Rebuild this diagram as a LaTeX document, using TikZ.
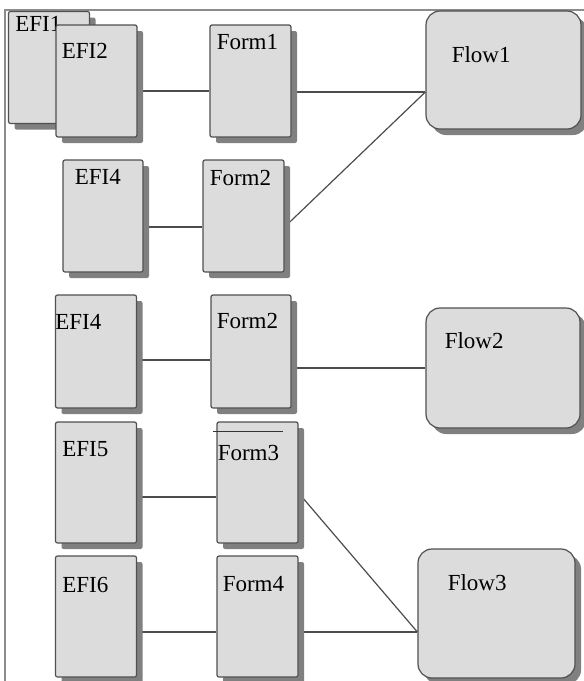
\documentclass[tikz,border=0pt]{standalone}
\usepackage{fontspec}
\setmainfont{Liberation Serif}
\usetikzlibrary{shadows,backgrounds}
\definecolor{boxfill}{RGB}{220,220,220}
\definecolor{boxline}{RGB}{80,80,80}
\definecolor{shadowgray}{RGB}{128,128,128}
\definecolor{framegray}{RGB}{140,140,140}
\tikzset{
  card/.style={draw=boxline, fill=boxfill, line width=0.6pt, rounded corners=1pt,
    minimum width=40.5pt, minimum height=56pt, inner sep=0pt,
    drop shadow={shadow xshift=3pt, shadow yshift=-3pt, fill=shadowgray, opacity=1}},
  flow/.style={card, rounded corners=7pt, minimum width=77.5pt, minimum height=59pt},
  tag/.style={font=\fontsize{11.5}{13}\selectfont, inner sep=0pt, anchor=north west, text=black},
  txt/.style n args={3}{label={[tag, xshift=#1, yshift=#2]north west:#3}},
  link/.style={draw=black!70, line width=0.6pt}
}
\begin{document}
\begin{tikzpicture}[x=0.5pt, y=-0.5pt]
  \useasboundingbox (0,0) rectangle (584,681);
  % frame
  \draw[framegray, line width=0.6pt] (5,681) -- (5,10) -- (584,10);
  % first group
  \node[card, txt={3.5pt}{-2.5pt}{EFI1}] (e1) at (49,67.5) {};
  \node[card, txt={3pt}{-9pt}{EFI2}] (e2) at (96.5,81) {};
  \node[card, txt={3.5pt}{-5pt}{Form1}] (m1) at (250.5,81) {};
  \node[flow, txt={13pt}{-18pt}{Flow1}] (w1) at (503.5,70) {};
  \node[card, minimum width=40pt, txt={6pt}{-5pt}{EFI4}] (e3) at (103,216) {};
  \node[card, txt={3.5pt}{-5pt}{Form2}] (m2) at (243.5,216) {};
  % second group
  \node[card, minimum height=56.5pt, txt={0pt}{-10pt}{EFI4}] (e4) at (96,351.5) {};
  \node[card, minimum width=40pt, minimum height=56.5pt, txt={3pt}{-9pt}{Form2}] (m3) at (251,351.5) {};
  \node[flow, minimum width=77pt, minimum height=60pt, txt={9.5pt}{-12.5pt}{Flow2}] (w2) at (503,368) {};
  % third group
  \node[card, minimum height=60.5pt, txt={3.5pt}{-10pt}{EFI5}] (e5) at (96,482.5) {};
  \node[card, minimum height=60.5pt, txt={0.5pt}{-11.5pt}{Form3}] (m4) at (257.5,482.5) {};
  \node[card, minimum height=60.5pt, txt={3.5pt}{-10.5pt}{EFI6}] (e6) at (96,616.5) {};
  \node[card, minimum height=60.5pt, txt={3pt}{-10.5pt}{Form4}] (m5) at (257.5,616.5) {};
  \node[flow, minimum width=78.5pt, minimum height=64.5pt, txt={15pt}{-13pt}{Flow3}] (w3) at (496.5,613.5) {};
  \draw[black!80, line width=0.5pt] ([xshift=-1.5pt, yshift=-5pt]m4.north west) -- ++(70,0);
  % connectors
  \begin{scope}[on background layer]
    \draw[link] ([yshift=-5pt]e2.east) -- ([yshift=-5pt]m1.west);
    \draw[link] ([yshift=-5.5pt]m1.east) -- ([yshift=-11pt]w1.west);
    \draw[link] ([yshift=-5.5pt]e3.east) -- ([yshift=-5.5pt]m2.west);
    \draw[link] ([yshift=-5.5pt]m2.east) -- ([yshift=-11pt]w1.west);
    \draw[link] ([yshift=-4.25pt]e4.east) -- ([yshift=-4.25pt]m3.west);
    \draw[link] ([yshift=-8.25pt]m3.east) -- (w2.west);
    \draw[link] ([yshift=-7.25pt]e5.east) -- ([yshift=-7.25pt]m4.west);
    \draw[link] ([yshift=-5.25pt]m4.east) -- ([yshift=-9.25pt]w3.west);
    \draw[link] ([yshift=-7.75pt]e6.east) -- ([yshift=-7.75pt]m5.west);
    \draw[link] ([yshift=-7.75pt]m5.east) -- ([yshift=-9.25pt]w3.west);
  \end{scope}
\end{tikzpicture}
\end{document}
